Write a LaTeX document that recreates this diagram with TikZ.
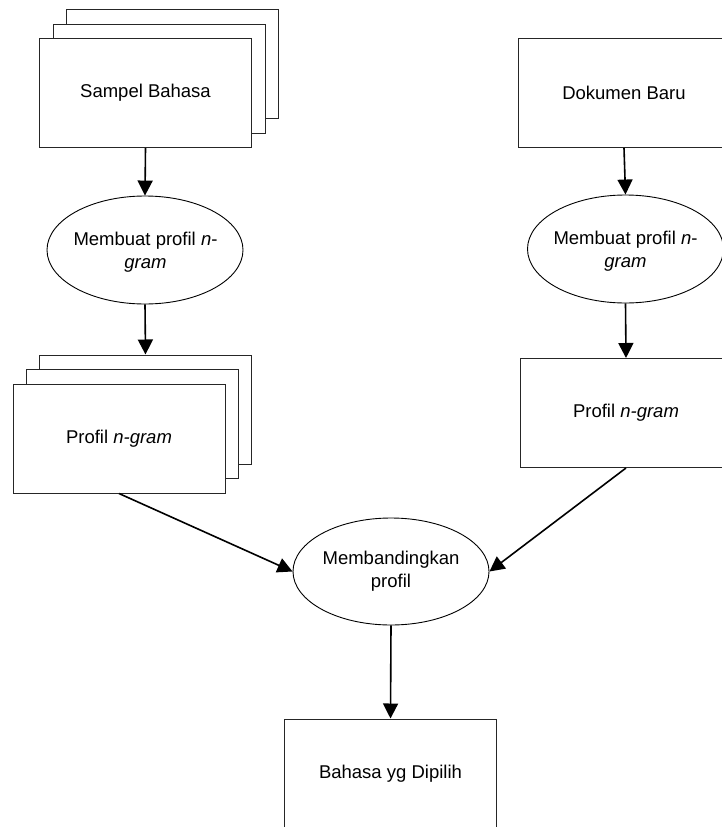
\documentclass[tikz,border=0pt]{standalone}
\usepackage{fontspec}
\setmainfont{Liberation Sans}
\usetikzlibrary{shapes.geometric,arrows.meta}
\begin{document}
\begin{tikzpicture}[x=1pt,y=-1pt,
  doc/.style={draw=black!85,line width=1pt,fill=white,rectangle,minimum width=212pt,minimum height=109pt,inner sep=0pt},
  proc/.style={draw=black,line width=0.9pt,fill=white,ellipse,minimum width=196pt,minimum height=108pt,inner sep=0pt},
  txt/.style={align=center,inner sep=0pt,font=\fontsize{18.5}{23}\selectfont},
  flow/.style={draw=black,line width=1.6pt,-{Triangle[length=15pt,width=15pt]}}]
\clip (0,0) rectangle (722,827);
\fill[white] (0,0) rectangle (722,827);
% Sampel Bahasa stack
\node[doc] (s3) at (172.5,63.5) {};
\node[doc] (s2) at (159,78.5) {};
\node[doc] (s1) at (145.5,93) {};
\node[txt] (s1t) at (s1) {Sampel Bahasa};
% ellipse 1
\node[proc] (e1) at (145,250) {};
\node[txt] (e1t) at (145.5,252) {Membuat profil \textit{n}-\\\textit{gram}};
% Profil stack
\node[doc] (p3) at (145.5,409.5) {};
\node[doc] (p2) at (132,424) {};
\node[doc] (p1) at (119,438.5) {};
\node[txt] (p1t) at (p1) {Profil \textit{n-gram}};
% right side
\node[doc] (d) at (624,93) {};
\node[txt] (dt) at (d) {Dokumen Baru};
\node[proc] (e2) at (625.5,249) {};
\node[txt] (e2t) at (625.5,251) {Membuat profil \textit{n}-\\\textit{gram}};
\node[doc] (q) at (626,413) {};
\node[txt] (qt) at (q) {Profil \textit{n-gram}};
% compare
\node[proc,minimum height=107pt] (c) at (391,571.5) {};
\node[txt] (ct) at (391,571) {Membandingkan\\profil};
% result
\node[doc] (r) at (390.5,773.5) {};
\node[txt] (rt) at (r) {Bahasa yg Dipilih};
% connectors
\draw[flow] (s1.south) -- (e1.north);
\draw[flow] (e1.south) -- (p3.north);
\draw[flow] (d.south) -- (e2.north);
\draw[flow] (e2.south) -- (q.north);
\draw[flow] (p1.south) -- (c.west);
\draw[flow] (q.south) -- (c.east);
\draw[flow] (c.south) -- (r.north);
\end{tikzpicture}
\end{document}
